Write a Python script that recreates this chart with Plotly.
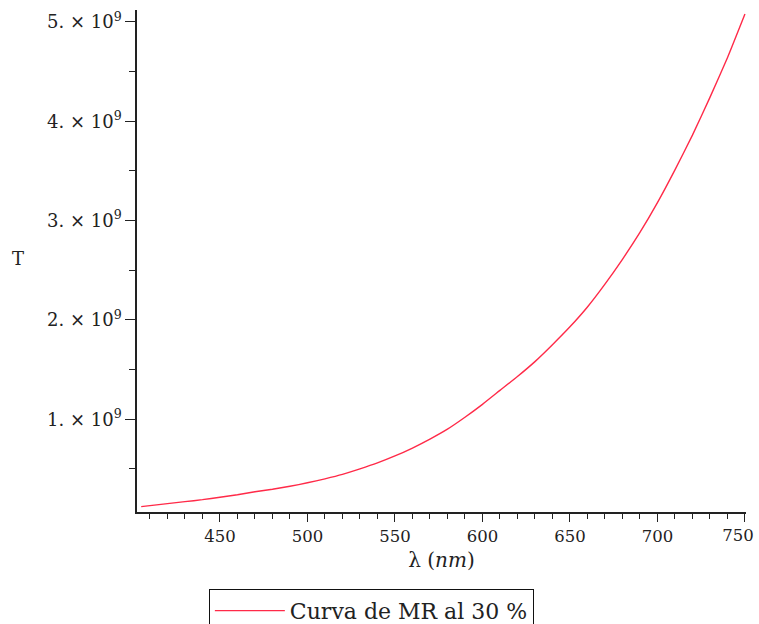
import plotly.graph_objects as go

# Wavelength samples (nm) and the corresponding T values
wavelength_nm = [405, 410, 420, 430, 440, 450, 460, 470, 480, 490, 500, 510,
                 520, 530, 540, 550, 560, 570, 580, 590, 600, 610, 620, 630,
                 640, 650, 660, 670, 680, 690, 700, 710, 720, 730, 740, 750]
t_values_e9 = [0.12, 0.13, 0.15, 0.17, 0.19, 0.215, 0.24, 0.27, 0.295, 0.325,
               0.36, 0.40, 0.445, 0.50, 0.56, 0.63, 0.71, 0.80, 0.90, 1.02,
               1.15, 1.29, 1.43, 1.58, 1.75, 1.93, 2.13, 2.36, 2.61, 2.88,
               3.18, 3.51, 3.86, 4.24, 4.64, 5.08]
t_values = [v * 1e9 for v in t_values_e9]

series_name = "Curva de MR al 30 %"

x_tickvals = [450, 500, 550, 600, 650, 700]
x_last_tick = [750]          # drawn on an overlay axis, nudged left to stay on the page
y_tickvals = [1e9, 2e9, 3e9, 4e9, 5e9]
y_ticktext = ["1. × 10<sup>9</sup>", "2. × 10<sup>9</sup>", "3. × 10<sup>9</sup>",
              "4. × 10<sup>9</sup>", "5. × 10<sup>9</sup>"]

X_RANGE = [402.6, 750.6]
FONT = "DejaVu Serif"
INK = "#222222"

fig = go.Figure()
fig.add_trace(go.Scatter(
    x=wavelength_nm, y=t_values, mode="lines", name=series_name,
    line=dict(color="#ff2a48", width=1.4, shape="spline", smoothing=0.5),
))
# invisible companion trace so the overlay x-axis is rendered
fig.add_trace(go.Scatter(
    x=x_last_tick, y=[None], xaxis="x2", yaxis="y", mode="lines",
    showlegend=False, hoverinfo="skip",
))

tick_font = dict(family=FONT, size=16.5, color=INK)

fig.update_layout(
    width=759, height=624,
    margin=dict(l=137, r=13, t=10, b=112, autoexpand=False),
    paper_bgcolor="white", plot_bgcolor="white",
    font=dict(family=FONT, size=17, color=INK),
    showlegend=True,
    legend=dict(
        x=0.118, y=-0.153, xanchor="left", yanchor="top",
        bordercolor="#111111", borderwidth=1, bgcolor="white",
        font=dict(family=FONT, size=22, color=INK),
        itemwidth=70,
    ),
    xaxis=dict(
        range=X_RANGE, showgrid=False, zeroline=False, automargin=False,
        showline=True, linecolor=INK, linewidth=1.5,
        ticks="outside", ticklen=8, tickwidth=1, tickcolor=INK,
        tickmode="array", tickvals=x_tickvals + x_last_tick,
        ticktext=[str(v) for v in x_tickvals] + [""],
        tickfont=tick_font,
        minor=dict(dtick=10, tick0=400, ticks="outside", ticklen=5,
                   tickcolor=INK, showgrid=False),
        title=dict(text="λ (<i>nm</i>)", font=dict(family=FONT, size=20, color=INK),
                   standoff=8),
    ),
    xaxis2=dict(
        overlaying="x", anchor="y", side="bottom", range=X_RANGE,
        showgrid=False, zeroline=False, showline=False, automargin=False,
        ticks="outside", ticklen=8, tickcolor="rgba(0,0,0,0)",
        tickmode="array", tickvals=x_last_tick,
        ticktext=[str(v) for v in x_last_tick],
        ticklabelshift=-7, ticklabeloverflow="allow",
        tickfont=tick_font,
    ),
    yaxis=dict(
        range=[0.066e9, 5.12e9], showgrid=False, zeroline=False, automargin=False,
        showline=True, linecolor=INK, linewidth=1.5,
        ticks="outside", ticklen=10, tickwidth=1, tickcolor=INK,
        tickmode="array", tickvals=y_tickvals, ticktext=y_ticktext,
        tickfont=dict(family=FONT, size=18, color=INK),
        minor=dict(dtick=0.5e9, tick0=0, ticks="outside", ticklen=6,
                   tickcolor=INK, showgrid=False),
    ),
    annotations=[dict(
        text="T", xref="paper", yref="paper", x=-0.195, y=0.505,
        xanchor="center", yanchor="middle", showarrow=False,
        font=dict(family=FONT, size=18, color=INK),
    )],
)

fig.write_html("out.html")
